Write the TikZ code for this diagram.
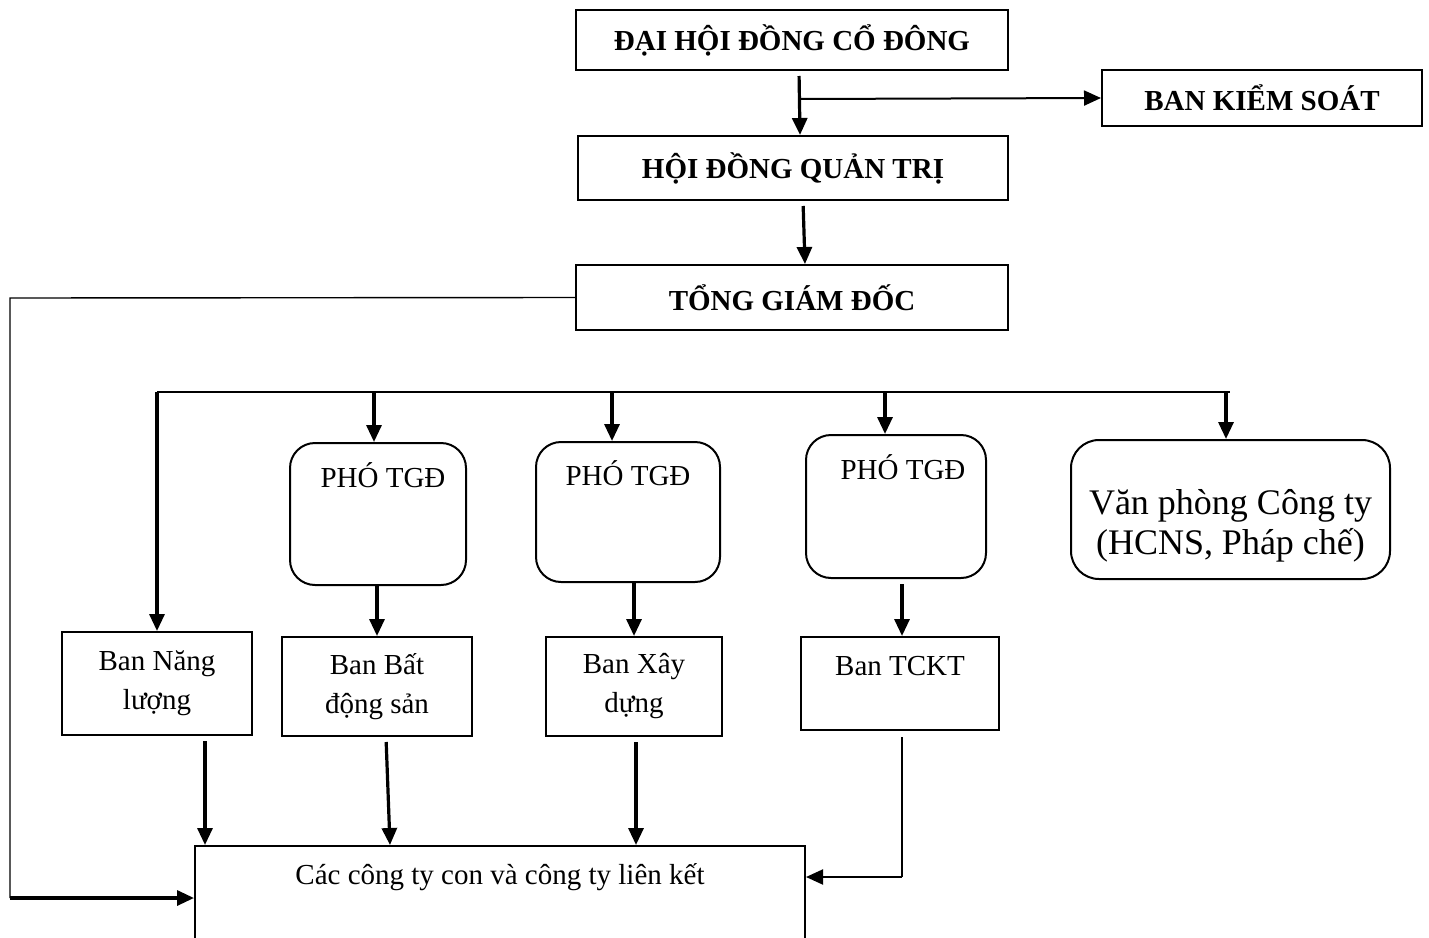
\documentclass[tikz,border=0pt]{standalone}
\usepackage{fontspec}
\setmainfont{Liberation Serif}
\usetikzlibrary{arrows.meta}

\begin{document}
\begin{tikzpicture}[x=0.5pt,y=-0.5pt,
  box/.style={draw, line width=1pt, inner sep=0pt, align=center, font=\fontsize{14.5}{19.5}\selectfont},
  topbox/.style={box, font=\bfseries\fontsize{14.5}{19.5}\selectfont},
  rbox/.style={box, rounded corners=12.5pt},
  arr/.style={-{Triangle[length=8.5pt,width=7.5pt]}, line width=1.6pt, shorten <=2.5pt},
  filo/.style={line width=0.7pt}]
\useasboundingbox (0,0) rectangle (1429,937);
\clip (0,0) rectangle (1429,937);
%NODI
\node[topbox, minimum width=216pt, minimum height=30pt] (dhcd) at (792,40) {ĐẠI HỘI ĐỒNG CỔ ĐÔNG};
\node[topbox, minimum width=160pt, minimum height=28pt] (bks) at (1262,98) {BAN KIỂM SOÁT};
\node[topbox, minimum width=215pt, minimum height=32pt] (hdqt) at (793,168) {HỘI ĐỒNG QUẢN TRỊ};
\node[topbox, minimum width=216pt, minimum height=32.5pt] (tgd) at (792,297.5) {TỔNG GIÁM ĐỐC};
\node[rbox, minimum width=88pt, text height=22pt, text depth=49pt] (pho1) at (378,514) {\hspace*{5pt}PHÓ TGĐ};
\node[rbox, minimum width=92pt, text height=21.5pt, text depth=48.5pt] (pho2) at (628,512) {PHÓ TGĐ};
\node[rbox, minimum width=90pt, text height=22pt, text depth=49.5pt] (pho3) at (896,506.5) {\hspace*{7pt}PHÓ TGĐ};
\node[rbox, rounded corners=14pt, minimum width=159.5pt, minimum height=69.5pt,
  label={[font=\fontsize{18}{20}\selectfont, align=center, yshift=-8pt]center:Văn phòng Công ty\\(HCNS, Pháp chế)}] (vp) at (1230.5,509.5) {};
\node[box, minimum width=95pt, minimum height=51.5pt] (nl) at (157,683.5) {Ban Năng\\lượng};
\node[box, minimum width=95pt, minimum height=49.5pt] (bds) at (377,686.5) {Ban Bất\\động sản};
\node[box, minimum width=88pt, minimum height=49.5pt] (xd) at (634,686.5) {Ban Xây\\dựng};
\node[box, minimum width=99pt, text height=19pt, text depth=27.5pt] (tckt) at (900,683.5) {Ban TCKT};
\node[box, minimum width=305pt, text height=19pt, text depth=38pt] (cty) at (500,903) {Các công ty con và công ty liên kết};
%PUNTI
\coordinate (j1) at (800,99);
\coordinate (l1) at (10,298);
\coordinate (l2) at (10,898);
\coordinate (bus1) at (157,392);
\coordinate (bus2) at (1230,392);
\coordinate (a1) at (374,392);
\coordinate (a2) at (612,392);
\coordinate (a3) at (885,392);
\coordinate (a4) at (1226,392);
\coordinate (k1) at (902,877);
%FRECCE IN ALTO
\draw[arr] ([xshift=3.5pt]dhcd.south) -- ([xshift=3.5pt]hdqt.north);
\draw[arr, line width=1pt, shorten <=0pt] (j1) -- (bks.west);
\draw[arr] ([xshift=5pt]hdqt.south) -- ([xshift=6.5pt]tgd.north);
%LINEA SINISTRA
\draw[filo] (tgd.west) -- (l1) -- (l2);
\draw[arr, shorten <=0pt] (l2) -- (l2 -| cty.west);
%BUS
\draw[filo] (bus1) -- (bus2);
\draw[arr, shorten <=0pt] (bus1) -- (nl.north);
\draw[arr, shorten <=0pt] (a1) -- (a1 |- pho1.north);
\draw[arr, shorten <=0pt] (a2) -- (a2 |- pho2.north);
\draw[arr, shorten <=0pt] (a3) -- (a3 |- pho3.north);
\draw[arr, shorten <=0pt] (a4) -- (a4 |- vp.north);
%PHO -> BAN
\draw[arr, shorten <=0pt] (bds.north |- pho1.south) -- (bds.north);
\draw[arr, shorten <=0pt] (xd.north |- pho2.south) -- (xd.north);
\draw[arr] ([xshift=3pt]pho3.south) -- ([xshift=1pt]tckt.north);
%BAN -> CONG TY
\draw[arr] ([xshift=24pt]nl.south) -- ([xshift=24pt]nl.south |- cty.north);
\draw[arr] ([xshift=4.5pt]bds.south) -- ([xshift=6.5pt]bds.south |- cty.north);
\draw[arr] ([xshift=1pt]xd.south) -- ([xshift=1pt]xd.south |- cty.north);
\draw[filo] ([xshift=1pt,yshift=-3pt]tckt.south) -- (k1);
\draw[arr, line width=1pt, shorten <=0pt] (k1) -- (k1 -| cty.east);
\end{tikzpicture}
\end{document}
